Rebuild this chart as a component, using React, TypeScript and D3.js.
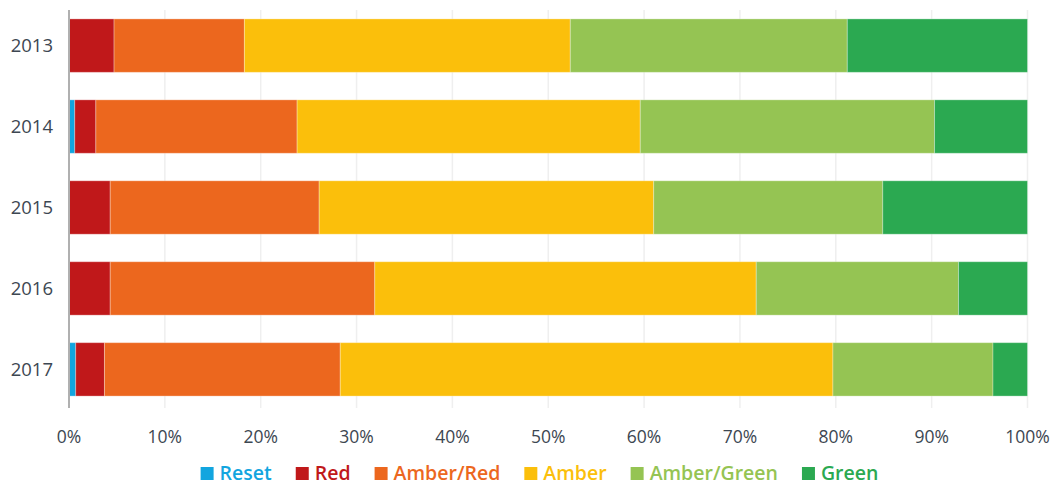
import React, { useEffect, useRef } from "react";
import * as d3 from "d3";

const years = ["2013", "2014", "2015", "2016", "2017"];
const seriesNames = ["Reset", "Red", "Amber/Red", "Amber", "Amber/Green", "Green"];
const seriesColors = ["#12a5df", "#c0181a", "#ec671e", "#fbbf0b", "#95c453", "#2ba951"];
const reset = [0, 0.6, 0, 0, 0.7];
const red = [4.7, 2.2, 4.3, 4.3, 3.0];
const amberRed = [13.6, 21.0, 21.8, 27.6, 24.6];
const amber = [34.0, 35.8, 34.9, 39.8, 51.4];
const amberGreen = [28.9, 30.7, 23.9, 21.1, 16.7];
const green = [18.8, 9.7, 15.1, 7.2, 3.6];
const tickValues = [0, 10, 20, 30, 40, 50, 60, 70, 80, 90, 100];

const W = 1057;
const H = 486;
const FONT = "'Open Sans', 'Noto Sans', sans-serif";
const TEXT = "#3d4752";

export default function App() {
  const ref = useRef<SVGSVGElement>(null);

  useEffect(() => {
    const svg = d3.select(ref.current);
    svg.selectAll("*").remove();

    const seriesValues = [reset, red, amberRed, amber, amberGreen, green];
    const rows = years.map((y, i) => {
      const o: any = { year: y };
      seriesNames.forEach((s, k) => (o[s] = seriesValues[k][i]));
      return o;
    });
    const stack = d3.stack().keys(seriesNames)(rows as any);

    const x = d3.scaleLinear().domain([0, 100]).range([69, 1027.5]);
    const y = d3
      .scaleBand()
      .domain(years)
      .range([10, 405])
      .paddingInner(0.34)
      .paddingOuter(0.11);

    // gridlines
    svg
      .append("g")
      .selectAll("line")
      .data(tickValues.slice(1))
      .join("line")
      .attr("x1", (d) => x(d))
      .attr("x2", (d) => x(d))
      .attr("y1", 10)
      .attr("y2", 408)
      .attr("stroke", "#efefef")
      .attr("stroke-width", 1.5);

    // bars
    const g = svg.append("g");
    stack.forEach((layer, k) => {
      g.append("g")
        .attr("fill", seriesColors[k])
        .selectAll("rect")
        .data(layer)
        .join("rect")
        .attr("x", (d: any) => x(d[0]))
        .attr("width", (d: any) => Math.max(0, x(d[1]) - x(d[0])))
        .attr("y", (d: any) => y(d.data.year)!)
        .attr("height", y.bandwidth())
        .attr("stroke", "#ffffff")
        .attr("stroke-opacity", (d: any) => (d[1] - d[0] > 0 ? 0.3 : 0))
        .attr("stroke-width", 1);
    });

    // y axis line
    svg
      .append("line")
      .attr("x1", 69)
      .attr("x2", 69)
      .attr("y1", 10)
      .attr("y2", 408)
      .attr("stroke", "#b0b0b0")
      .attr("stroke-width", 2);

    // y labels
    svg
      .append("g")
      .selectAll("text")
      .data(years)
      .join("text")
      .attr("x", 53)
      .attr("y", (d) => y(d)! + y.bandwidth() / 2)
      .attr("dy", "0.35em")
      .attr("text-anchor", "end")
      .attr("font-family", FONT)
      .attr("font-size", 18.5)
      .attr("fill", TEXT)
      .text((d) => d);

    // x labels
    svg
      .append("g")
      .selectAll("text")
      .data(tickValues)
      .join("text")
      .attr("x", (d) => x(d))
      .attr("y", 443)
      .attr("text-anchor", "middle")
      .attr("font-family", FONT)
      .attr("font-size", 17.5)
      .attr("fill", TEXT)
      .text((d) => d + "%");

    // legend
    const lg = svg.append("g");
    const items = lg
      .selectAll("g")
      .data(seriesNames)
      .join("g");
    items
      .append("rect")
      .attr("width", 13)
      .attr("height", 13)
      .attr("y", 467)
      .attr("fill", (d, i) => seriesColors[i]);
    const texts = items
      .append("text")
      .attr("x", 19)
      .attr("y", 480)
      .attr("font-family", FONT)
      .attr("font-size", 19.5)
      .attr("font-weight", 600)
      .attr("fill", (d, i) => seriesColors[i])
      .text((d) => d);
    const widths: number[] = [];
    texts.each(function () {
      widths.push((this as SVGTextElement).getComputedTextLength());
    });
    const gap = 24;
    let total = 0;
    const offsets: number[] = [];
    widths.forEach((w, i) => {
      offsets.push(total);
      total += 19 + w + (i < widths.length - 1 ? gap : 0);
    });
    const start = 539.5 - total / 2;
    items.attr("transform", (d, i) => `translate(${start + offsets[i]},0)`);
  }, []);

  return (
    <svg
      ref={ref}
      width={W}
      height={H}
      style={{ position: "absolute", left: 0, top: 0, background: "#ffffff" }}
    />
  );
}
